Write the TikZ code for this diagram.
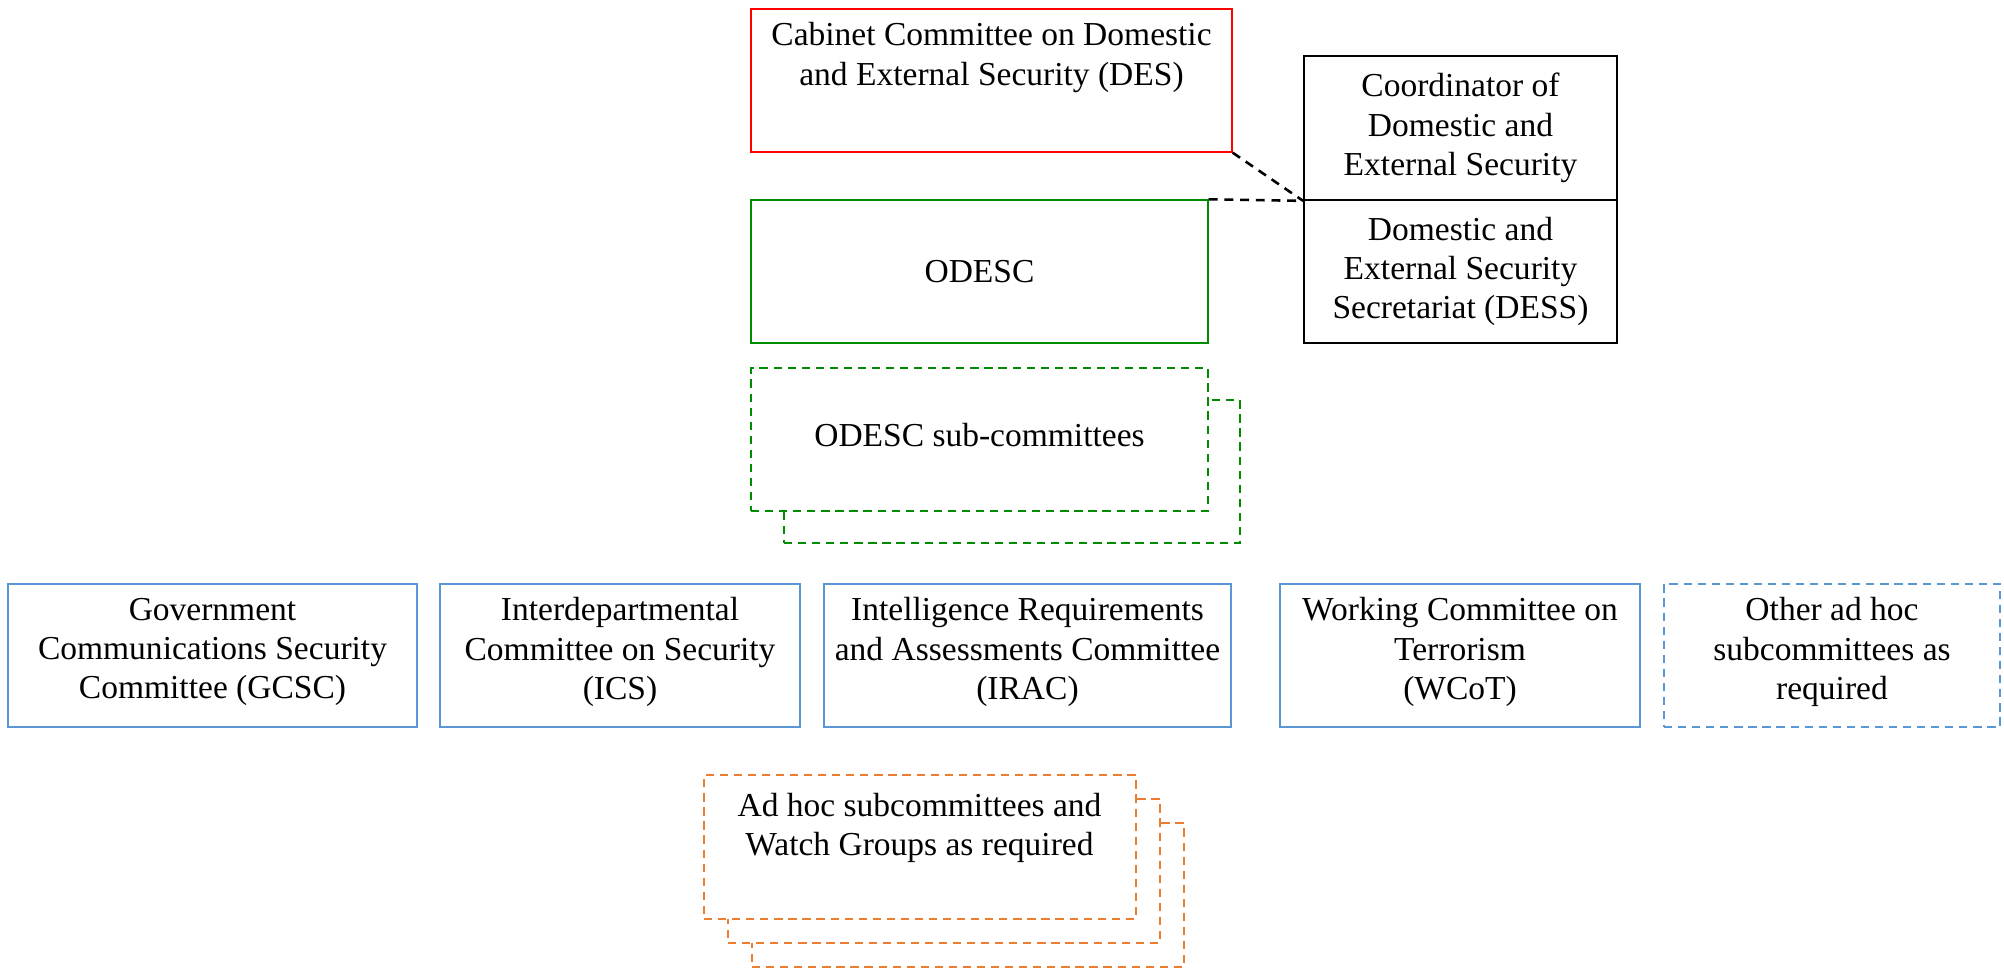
\documentclass[tikz,border=0pt]{standalone}
\usepackage{fontspec}
\setmainfont{Liberation Serif}
\usetikzlibrary{positioning, calc}

\definecolor{desred}{RGB}{255,0,0}
\definecolor{odescgreen}{RGB}{0,140,0}
\definecolor{subblue}{RGB}{91,150,213}
\definecolor{adhocorange}{RGB}{237,125,49}

\tikzset{
  box/.style={draw, rectangle, inner sep=0pt, line width=0.6pt, fill=white},
  dashbox/.style={box, dash pattern=on 3.5pt off 2.5pt},
  size/.style 2 args={minimum width=#1*0.015cm, minimum height=#2*0.015cm},
  boxtext/.style={align=center, inner sep=0pt, font=\fontsize{14.3}{16.8}\selectfont},
  link/.style={draw, line width=1.1pt, dash pattern=on 3.8pt off 2.9pt},
}

\begin{document}
\begin{tikzpicture}[x=0.015cm, y=-0.015cm]
\useasboundingbox (0,0) rectangle (2004,968);

% Cabinet committee and coordinator
\node[box, draw=desred, size={481}{143}] (des) at (991.5,80.5) {};
\node[boxtext] (destext) at (991.5,57.5) {Cabinet Committee on Domestic\\and External Security (DES)};
\node[box, line width=0.75pt, size={313}{144}, boxtext] (coord) at (1460.5,128)
  {Coordinator of\\Domestic and\\External Security};
\node[box, line width=0.75pt, size={313}{143}, boxtext] (dess) at (1460.5,271.5)
  {Domestic and\\External Security\\Secretariat (DESS)};

% ODESC
\node[box, draw=odescgreen, size={457}{143}, boxtext] (odesc) at (979.5,271.5) {ODESC};

% ODESC sub-committees (stacked)
\node[dashbox, draw=odescgreen, size={456}{143}] (subback) at (1012,471.5) {};
\node[dashbox, draw=odescgreen, size={457}{143}] (subfront) at (979.5,439.5) {};
\node[boxtext] (subtext) at (979.5,435) {ODESC sub-committees};

% dashed links
\draw[link] (des.south east) -- (coord.south west);
\draw[link] (odesc.north east) -- (coord.south west);

% Sub-committees row
\node[box, draw=subblue, size={409}{143}] (gcsc) at (212.5,655.5) {};
\node[boxtext] (gcsctext) at (212.5,652) {Government\\Communications Security\\Committee (GCSC)};
\node[box, draw=subblue, size={360}{143}] (ics) at (620,655.5) {};
\node[boxtext] (icstext) at (620,652) {Interdepartmental\\Committee on Security\\(ICS)};
\node[box, draw=subblue, size={407}{143}] (irac) at (1027.5,655.5) {};
\node[boxtext] (iractext) at (1027.5,652) {Intelligence Requirements\\and Assessments Committee\\(IRAC)};
\node[box, draw=subblue, size={360}{143}] (wcot) at (1460,655.5) {};
\node[boxtext] (wcottext) at (1460,652) {Working Committee on\\Terrorism\\(WCoT)};
\node[dashbox, draw=subblue, size={336}{143}] (other) at (1832,655.5) {};
\node[boxtext] (othertext) at (1832,652) {Other ad hoc\\subcommittees as\\required};

% Ad hoc subcommittees (stacked)
\foreach \i/\cx/\cy in {3/968/895, 2/944/871, 1/920/847}
  \node[dashbox, draw=adhocorange, size={432}{144}] (adhoc\i) at (\cx,\cy) {};
\node[boxtext] (adhoctext) at (919.5,828) {Ad hoc subcommittees and\\Watch Groups as required};
\end{tikzpicture}
\end{document}
